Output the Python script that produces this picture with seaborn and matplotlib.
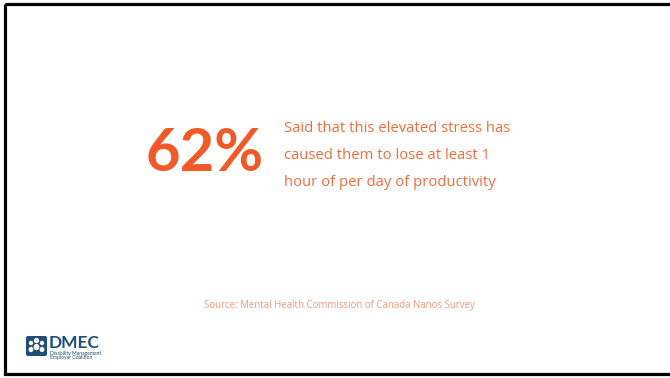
import matplotlib
matplotlib.use("Agg")
import matplotlib.pyplot as plt
import matplotlib.patches as patches
import seaborn as sns

# slide content
stat_value = "62%"
stat_lines = ["Said that this elevated stress has",
              "caused them to lose at least 1",
              "hour of per day of productivity"]
source_text = "Source: Mental Health Commission of Canada Nanos Survey"
logo_name = "DMEC"
logo_sub = ["Disability Management", "Employer Coalition"]

ORANGE = "#F05A28"
ORANGE_TXT = "#F26D3D"
ORANGE_SRC = "#F5987A"
NAVY = "#1F4E79"

sns.set_theme(style="white")
plt.rcParams['font.family'] = ['Lato', 'DejaVu Sans']

fig = plt.figure(figsize=(6.7, 3.78), dpi=100)
ax = fig.add_axes([0, 0, 1, 1])
ax.set_xlim(0, 670)
ax.set_ylim(378, 0)
ax.axis("off")

# slide frame (right edge runs off the picture)
ax.add_patch(patches.Rectangle((4.5, 3.5), 700, 370.5, fill=False,
                               edgecolor="black", linewidth=2.3))

# big number
ax.text(146, 154, stat_value, color=ORANGE, fontsize=43, fontweight="bold",
        ha="left", va="center")

# description
for i, line in enumerate(stat_lines):
    ax.text(284, 128 + i * 27.5, line, color=ORANGE_TXT, fontsize=10.7,
            family="Open Sans", ha="left", va="center")

# source
ax.text(339, 305.5, source_text, color=ORANGE_SRC, fontsize=6.95,
        family="Open Sans", ha="center", va="center")

# logo
ax.add_patch(patches.FancyBboxPatch((26, 336), 21, 20,
                                    boxstyle="round,pad=0,rounding_size=2",
                                    facecolor=NAVY, edgecolor="none"))
for cx, cy, r in [(31, 343, 2.2), (36.5, 340.5, 2.6), (42, 343, 2.2)]:
    ax.add_patch(patches.Circle((cx, cy), r, facecolor="white", edgecolor="none"))
    ax.add_patch(patches.Ellipse((cx, cy + 6.5), r * 2.2, r * 2.4,
                                 facecolor="white", edgecolor="none"))
ax.text(49, 348, logo_name, color=NAVY, fontsize=12.5, fontweight="bold",
        ha="left", va="baseline")
for i, line in enumerate(logo_sub):
    ax.text(50, 353 + i * 5, line, color=NAVY, fontsize=3.6,
            ha="left", va="center")

fig.savefig("out.png", dpi=100)
